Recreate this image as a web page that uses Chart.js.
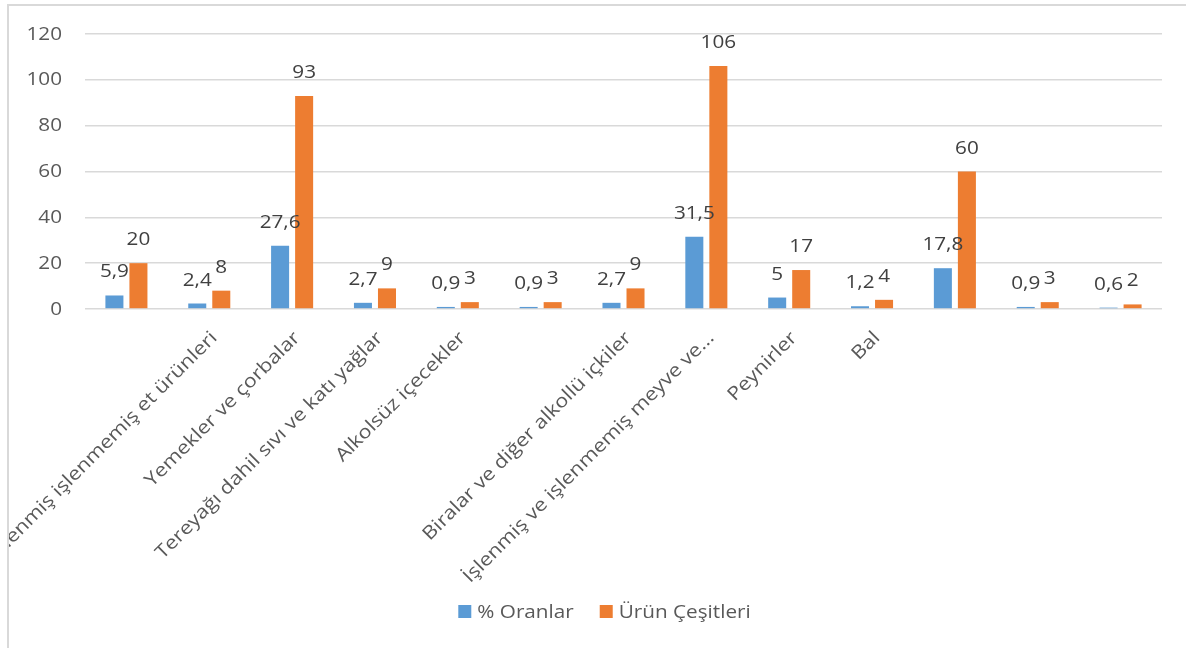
<!DOCTYPE html>
<html lang="tr">
<head>
<meta charset="utf-8">
<title>Ürün Çeşitleri ve Oranlar</title>
<script src="https://cdn.jsdelivr.net/npm/chart.js@4.4.1/dist/chart.umd.min.js"></script>
<style>
  html, body { margin: 0; padding: 0; background: #ffffff; }
  body { width: 1186px; height: 648px; overflow: hidden; position: relative; }
  #frame {
    position: absolute; left: 7px; top: 4px;
    width: 1194px; height: 700px;
    border-left: 2px solid #d9d9d9; border-top: 2px solid #d9d9d9;
    overflow: hidden;
  }
  #wrap { position: absolute; left: 0; top: 0; width: 1177px; height: 642px; }
</style>
</head>
<body>
<div id="frame"><div id="wrap"><canvas id="c"></canvas></div></div>
<script>
// Category names (some categories carry no visible name on the axis)
const categories = [
  "",
  "İşlenmiş işlenmemiş et ürünleri",
  "Yemekler ve çorbalar",
  "Tereyağı dahil sıvı ve katı yağlar",
  "Alkolsüz içecekler",
  "",
  "Biralar ve diğer alkollü içkiler",
  "İşlenmiş ve işlenmemiş meyve ve...",
  "Peynirler",
  "Bal",
  "",
  "",
  ""
];
const seriesNames = ["% Oranlar", "Ürün Çeşitleri"];
const oranlar = [5.9, 2.4, 27.6, 2.7, 0.9, 0.9, 2.7, 31.5, 5, 1.2, 17.8, 0.9, 0.6];
const cesitler = [20, 8, 93, 9, 3, 3, 9, 106, 17, 4, 60, 3, 2];
const yTicks = [0, 20, 40, 60, 80, 100, 120];

const BLUE = "#5B9BD5";
const ORANGE = "#ED7D31";
const FONT = "'Open Sans', 'Liberation Sans', sans-serif";
const STRETCH = 1.15;      // horizontal widening of value, axis and legend text
const CAT_STRETCH = 1.16;  // widening of the slanted category names

function fmt(v) { return String(v).replace(".", ","); }

// Value axis numbers, right-aligned left of the plot
const valueAxisLabels = {
  id: "valueAxisLabels",
  afterDraw(chart) {
    const ctx = chart.ctx;
    const ys = chart.scales.y;
    const xRight = chart.chartArea.left - 23;
    ctx.save();
    ctx.font = "18px " + FONT;
    ctx.fillStyle = "#595959";
    ctx.textAlign = "right";
    ctx.textBaseline = "middle";
    ys.ticks.forEach(t => {
      ctx.save();
      ctx.translate(xRight, ys.getPixelForValue(t.value) + 0.5);
      ctx.scale(STRETCH, 1);
      ctx.fillText(String(t.value), 0, 0);
      ctx.restore();
    });
    ctx.restore();
  }
};

// Value labels above every bar
const valueLabels = {
  id: "valueLabels",
  afterDatasetsDraw(chart) {
    const ctx = chart.ctx;
    ctx.save();
    ctx.font = "18px " + FONT;
    ctx.fillStyle = "#404040";
    ctx.textAlign = "center";
    ctx.textBaseline = "alphabetic";
    chart.data.datasets.forEach((ds, i) => {
      const meta = chart.getDatasetMeta(i);
      meta.data.forEach((bar, j) => {
        ctx.save();
        ctx.translate(bar.x, bar.y - 18);
        ctx.scale(STRETCH, 1);
        ctx.fillText(fmt(ds.data[j]), 0, 0);
        ctx.restore();
      });
    });
    ctx.restore();
  }
};

// Slanted category names under the axis
const categoryLabels = {
  id: "categoryLabels",
  afterDraw(chart) {
    const ctx = chart.ctx;
    const xs = chart.scales.x;
    const y0 = chart.chartArea.bottom + 26;
    ctx.save();
    ctx.font = "18.5px " + FONT;
    ctx.fillStyle = "#595959";
    ctx.textAlign = "right";
    ctx.textBaseline = "middle";
    chart.data.labels.forEach((lab, i) => {
      if (!lab) return;
      const x = xs.getPixelForTick(i) + 5;
      ctx.save();
      ctx.translate(x, y0);
      ctx.rotate(-Math.PI / 4);
      ctx.scale(CAT_STRETCH, 1);
      ctx.fillText(lab, 0, 0);
      ctx.restore();
    });
    ctx.restore();
  }
};

// Legend row centred under the plot
const bottomLegend = {
  id: "bottomLegend",
  afterDraw(chart) {
    const ctx = chart.ctx;
    ctx.save();
    ctx.font = "18px " + FONT;
    ctx.textBaseline = "alphabetic";
    ctx.textAlign = "left";
    const box = 13, gapBox = 6, gapItem = 26;
    const items = chart.data.datasets.map(ds => ({
      text: ds.label, color: ds.backgroundColor,
      w: ctx.measureText(ds.label).width * STRETCH
    }));
    let total = 0;
    items.forEach((it, k) => { total += box + gapBox + it.w + (k ? gapItem : 0); });
    const centre = 595.5;
    let x = centre - total / 2;
    const yBox = 599;
    items.forEach(it => {
      ctx.fillStyle = it.color;
      ctx.fillRect(x, yBox, box, box);
      ctx.fillStyle = "#595959";
      ctx.save();
      ctx.translate(x + box + gapBox, yBox + 13);
      ctx.scale(STRETCH, 1);
      ctx.fillText(it.text, 0, 0);
      ctx.restore();
      x += box + gapBox + it.w + gapItem;
    });
    ctx.restore();
  }
};

new Chart(document.getElementById("c"), {
  type: "bar",
  data: {
    labels: categories,
    datasets: [
      { label: seriesNames[0], data: oranlar, backgroundColor: BLUE,
        categoryPercentage: 0.58, barPercentage: 0.75 },
      { label: seriesNames[1], data: cesitler, backgroundColor: ORANGE,
        categoryPercentage: 0.58, barPercentage: 0.75 }
    ]
  },
  options: {
    responsive: true,
    maintainAspectRatio: false,
    animation: false,
    layout: { padding: { left: 0, top: 28, right: 24, bottom: 339 } },
    plugins: { legend: { display: false }, tooltip: { enabled: false } },
    scales: {
      x: {
        offset: true,
        grid: { display: false, drawTicks: false },
        border: { display: false },
        ticks: { display: false },
        afterFit(s) { s.height = 0; }
      },
      y: {
        min: 0, max: 120,
        afterBuildTicks(s) { s.ticks = yTicks.map(v => ({ value: v })); },
        grid: { color: "#d9d9d9", lineWidth: 1.6, drawTicks: false },
        border: { display: false },
        ticks: { display: false },
        afterFit(s) { s.width = 76; }
      }
    }
  },
  plugins: [valueAxisLabels, valueLabels, categoryLabels, bottomLegend]
});
</script>
</body>
</html>
